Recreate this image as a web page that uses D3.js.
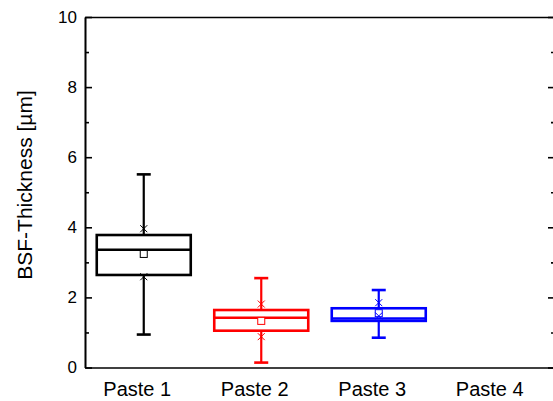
<!DOCTYPE html>
<html>
<head>
<meta charset="utf-8">
<script src="https://cdn.jsdelivr.net/npm/d3@7"></script>
<style>
 body { margin:0; background:#fff; }
 svg { display:block; font-family:"Liberation Sans", Arial, sans-serif; }
 .axis path, .axis line { stroke:#000; stroke-width:1.6px; }
 .axis text { fill:#000; }
</style>
</head>
<body>
<div id="chartDiv"></div>
<script>
// chart values
var categories = ["Paste 1", "Paste 2", "Paste 3", "Paste 4"];
var boxColors  = ["#000000", "#ff0000", "#0000ff"];
var whiskerHigh = [5.51, 2.55, 2.21];
var q3          = [3.78, 1.64, 1.69];
var median      = [3.36, 1.42, 1.40];
var q1          = [2.64, 1.05, 1.33];
var whiskerLow  = [0.94, 0.14, 0.85];
var means       = [3.24, 1.33, 1.55];
var pct99       = [3.96, 1.81, 1.85];
var pct1        = [2.59, 0.88, 1.47];
var majorTicks  = [0, 2, 4, 6, 8, 10];
var minorTicks  = [1, 3, 5, 7, 9];

var margin = {top: 17, left: 85};
var width  = 470;			// plot runs past the right edge of the window
var height = 350.5;

var svg = d3.select("#chartDiv").append("svg")
  .attr("width", 553)
  .attr("height", 401);

var g = svg.append("g")
  .attr("transform", "translate(" + margin.left + "," + margin.top + ")");

var xScale = d3.scaleLinear().domain([0.5, 4.5]).range([0, width]);
var yScale = d3.scaleLinear().domain([0, 10]).range([height, 0]);

// boxes
var data = whiskerHigh.map(function(d, i) {
  return {i: i + 1, hi: d, q3: q3[i], med: median[i], q1: q1[i], lo: whiskerLow[i],
          mean: means[i], p99: pct99[i], p1: pct1[i], color: boxColors[i]};
});
var boxW = xScale(1.4) - xScale(1);
var capW = 7;

var boxes = g.selectAll(".box").data(data).enter().append("g")
  .attr("class", "box")
  .style("stroke", function(d) { return d.color; });

boxes.append("line")			// upper whisker
  .attr("x1", function(d) { return xScale(d.i); })
  .attr("x2", function(d) { return xScale(d.i); })
  .attr("y1", function(d) { return yScale(d.q3); })
  .attr("y2", function(d) { return yScale(d.hi); })
  .style("stroke-width", 2.2);
boxes.append("line")			// lower whisker
  .attr("x1", function(d) { return xScale(d.i); })
  .attr("x2", function(d) { return xScale(d.i); })
  .attr("y1", function(d) { return yScale(d.q1); })
  .attr("y2", function(d) { return yScale(d.lo); })
  .style("stroke-width", 2.2);
["hi", "lo"].forEach(function(k) {	// caps
  boxes.append("line")
    .attr("x1", function(d) { return xScale(d.i) - capW; })
    .attr("x2", function(d) { return xScale(d.i) + capW; })
    .attr("y1", function(d) { return yScale(d[k]); })
    .attr("y2", function(d) { return yScale(d[k]); })
    .style("stroke-width", 2.6);
});

boxes.append("rect")
  .attr("x", function(d) { return xScale(d.i) - boxW; })
  .attr("y", function(d) { return yScale(d.q3); })
  .attr("width", boxW * 2)
  .attr("height", function(d) { return yScale(d.q1) - yScale(d.q3); })
  .style("fill", "none")
  .style("stroke-width", 2.6);

boxes.append("line")			// median
  .attr("x1", function(d) { return xScale(d.i) - boxW; })
  .attr("x2", function(d) { return xScale(d.i) + boxW; })
  .attr("y1", function(d) { return yScale(d.med); })
  .attr("y2", function(d) { return yScale(d.med); })
  .style("stroke-width", 2.4);

boxes.append("rect")			// mean
  .attr("x", function(d) { return xScale(d.i) - 3.5; })
  .attr("y", function(d) { return yScale(d.mean) - 3.5; })
  .attr("width", 7)
  .attr("height", 7)
  .style("fill", "#fff")
  .style("stroke-width", 1);

["p99", "p1"].forEach(function(k) {	// 1% / 99% crosses
  boxes.append("path")
    .attr("d", function(d) {
      var x = xScale(d.i), y = yScale(d[k]), s = 3.5;
      return "M" + (x - s) + "," + (y - s) + "L" + (x + s) + "," + (y + s) +
             "M" + (x - s) + "," + (y + s) + "L" + (x + s) + "," + (y - s);
    })
    .style("fill", "none")
    .style("stroke-width", 1);
});

// axes
g.append("g")
  .attr("class", "axis")
  .call(d3.axisLeft(yScale).tickValues(majorTicks).tickSize(-7).tickSizeOuter(0).tickPadding(8))
  .selectAll("text").style("font-size", "17px");
g.append("g")
  .attr("class", "axis")
  .call(d3.axisLeft(yScale).tickValues(minorTicks).tickSize(-4).tickSizeOuter(0).tickFormat(""));
g.append("g")
  .attr("class", "axis")
  .attr("transform", "translate(" + width + ",0)")
  .call(d3.axisRight(yScale).tickValues(majorTicks).tickSize(-7).tickSizeOuter(0).tickFormat(""));
g.append("g")
  .attr("class", "axis")
  .attr("transform", "translate(" + width + ",0)")
  .call(d3.axisRight(yScale).tickValues(minorTicks).tickSize(-4).tickSizeOuter(0).tickFormat(""));
g.append("g")
  .attr("class", "axis")
  .call(d3.axisTop(xScale).tickValues([]).tickSizeOuter(0));
g.append("g")
  .attr("class", "axis")
  .attr("transform", "translate(0," + height + ")")
  .call(d3.axisBottom(xScale).tickValues([1, 2, 3, 4])
        .tickFormat(function(d) { return categories[d - 1]; })
        .tickSize(0).tickSizeOuter(0).tickPadding(14))
  .selectAll("text")
    .attr("dx", "-7")
    .style("font-size", "20px");

svg.append("text")			// y title
  .attr("transform", "translate(32,185)rotate(-90)")
  .attr("text-anchor", "middle")
  .style("font-size", "21px")
  .text("BSF-Thickness [µm]");
</script>
</body>
</html>
